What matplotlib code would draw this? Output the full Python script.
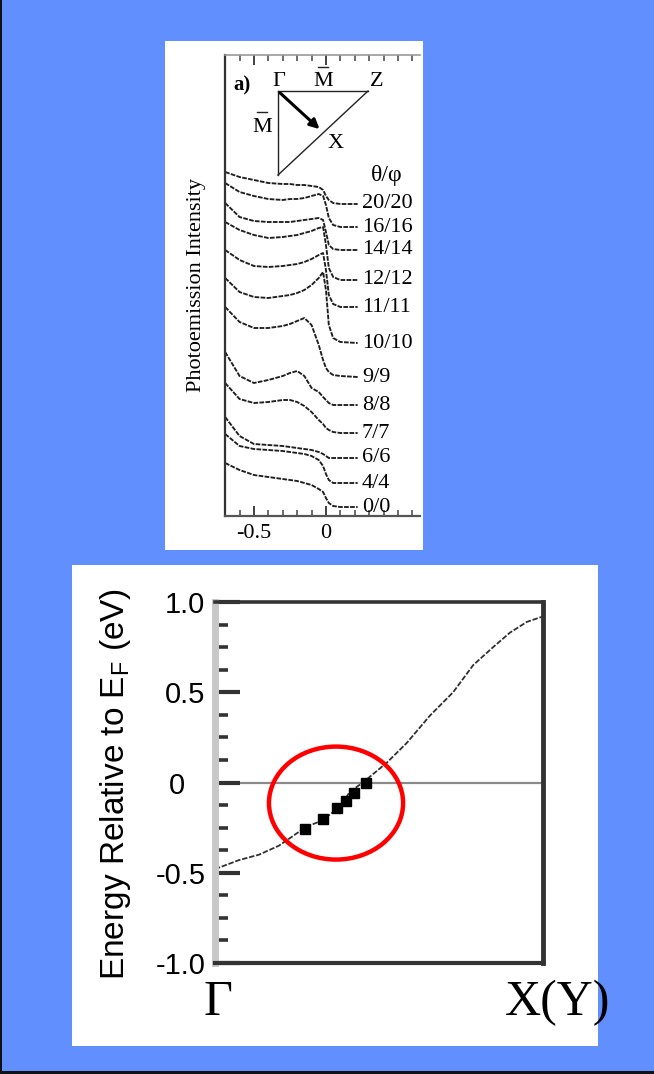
import matplotlib
matplotlib.use("Agg")
import matplotlib.pyplot as plt
from matplotlib.patches import Rectangle, Ellipse
import matplotlib.transforms as mtransforms
from matplotlib.ticker import MultipleLocator

plt.rcParams['axes.unicode_minus'] = False

# ---------------- data : upper panel (EDC spectra) ----------------
energy_grid = [-0.70, -0.60, -0.50, -0.40, -0.30, -0.25, -0.20, -0.15,
               -0.10, -0.05, -0.02, 0.00, 0.02, 0.05, 0.10, 0.22]
spectrum_labels = ["20/20", "16/16", "14/14", "12/12", "11/11", "10/10",
                   "9/9", "8/8", "7/7", "6/6", "4/4", "0/0"]
# intensities (arbitrary units, offset stacked)
spec_20 = [344, 339, 336, 333, 332, 332, 331, 331, 330, 329, 326, 320, 316, 313, 312, 312]
spec_16 = [333, 324, 320, 317, 316, 317, 317, 318, 320, 322, 320, 311, 298, 291, 289, 289]
spec_14 = [313, 299, 295, 294, 294, 294, 295, 296, 297, 298, 296, 284, 271, 267, 266, 266]
spec_12 = [294, 286, 281, 278, 279, 280, 281, 283, 285, 288, 289, 271, 248, 239, 236, 236]
spec_11 = [266, 256, 250, 249, 250, 251, 252, 254, 257, 261, 263, 246, 221, 212, 209, 209]
spec_10 = [238, 224, 219, 218, 220, 221, 223, 226, 231, 238, 244, 226, 191, 178, 174, 173]
spec_9 = [209, 194, 188, 188, 190, 192, 195, 198, 191, 171, 156, 148, 144, 141, 140, 139]
spec_8 = [164, 140, 133, 136, 140, 143, 145, 140, 128, 124, 119, 116, 113, 111, 111, 111]
spec_7 = [133, 117, 113, 114, 116, 116, 114, 110, 104, 96, 92, 88, 86, 84, 83, 83]
spec_6 = [99, 80, 72, 71, 70, 69, 68, 67, 66, 64, 62, 60, 58, 58, 58, 58]
spec_4 = [82, 70, 67, 66, 65, 64, 63, 62, 60, 56, 50, 42, 36, 33, 33, 33]
spec_0 = [53, 46, 41, 39, 37, 36, 35, 33, 31, 27, 24, 18, 13, 10, 9, 9]
spectra = [spec_20, spec_16, spec_14, spec_12, spec_11, spec_10,
           spec_9, spec_8, spec_7, spec_6, spec_4, spec_0]
upper_xticks = [-0.5, 0]
upper_xticklabels = ["-0.5", "0"]

# ---------------- data : lower panel (band dispersion) ----------------
k_band = [0.0, 0.073, 0.134, 0.195, 0.235, 0.274, 0.326, 0.378, 0.412, 0.451,
          0.524, 0.585, 0.655, 0.726, 0.787, 0.848, 0.899, 0.951, 1.0]
e_band = [-0.48, -0.43, -0.40, -0.35, -0.30, -0.25, -0.21, -0.14, -0.05, 0.00,
          0.11, 0.22, 0.37, 0.50, 0.65, 0.75, 0.83, 0.89, 0.92]
k_exp = [0.274, 0.329, 0.372, 0.400, 0.424, 0.46]
e_exp = [-0.26, -0.20, -0.14, -0.10, -0.06, 0.00]
lower_yticks = [1.0, 0.5, 0.0, -0.5, -1.0]
lower_yticklabels = ["1.0", "0.5", "0", "-0.5", "-1.0"]
lower_xticks = [0.0, 1.0]
lower_xticklabels = ["\u0393", "X(Y)"]

# ---------------- figure ----------------
W, H = 654, 1074
fig = plt.figure(figsize=(W / 100, H / 100), dpi=100)
fig.patch.set_facecolor('#628ffe')


def fx(px):
    return px / W


def fy(py):
    return 1 - py / H


def box(x0, y0, x1, y1, **kw):
    fig.add_artist(Rectangle((fx(x0), fy(y1)), fx(x1) - fx(x0), fy(y0) - fy(y1),
                             transform=fig.transFigure, **kw))


box(165, 41, 423, 550, facecolor='white', edgecolor='none', zorder=0)
box(72, 565, 598, 1046, facecolor='white', edgecolor='none', zorder=0)
# dark frame lines at left / bottom edges of the slide
box(0, 0, 2, 1074, facecolor='#111111', edgecolor='none', zorder=0)
box(0, 1071, 654, 1074, facecolor='#111111', edgecolor='none', zorder=0)

serif = ['Liberation Serif', 'DejaVu Serif']
sans = ['Liberation Sans', 'DejaVu Sans']

# ---------------- upper panel ----------------
ax1 = fig.add_axes([fx(225), fy(516), fx(420) - fx(225), fy(55) - fy(516)])
ax1.set_facecolor('none')
ax1.set_xlim(-0.701, 0.653)
ax1.set_ylim(0, 461)
for lab, sp in zip(spectrum_labels, spectra):
    ax1.plot(energy_grid, sp, color='#1e1e1e', lw=1.35, ls=(0, (2.5, 0.7)))
    ax1.text(0.25, sp[-1], lab, family=serif, fontsize=16, ha='left', va='center')
ax1.text(0.42, 341, "\u03b8/\u03c6", family=serif, fontsize=17, ha='center', va='center')

# Brillouin-zone sketch
ax1.plot([-0.333, 0.292], [425, 425], color='#222', lw=1.0)
ax1.plot([-0.333, -0.333], [425, 341], color='#222', lw=1.0)
ax1.plot([-0.333, 0.292], [341, 425], color='#222', lw=1.0)
ax1.annotate("", xy=(-0.03, 385), xytext=(-0.333, 425),
             arrowprops=dict(arrowstyle='-|>', color='black', lw=2.2, mutation_scale=14))
ax1.text(-0.585, 431, "a)", family=serif, fontsize=15, fontweight='bold', ha='center', va='center')
ax1.text(-0.326, 434, "\u0393", family=serif, fontsize=16, ha='center', va='center')
ax1.text(-0.02, 434, "M", family=serif, fontsize=16, ha='center', va='center')
ax1.plot([-0.055, 0.015], [449, 449], color='#222', lw=1.0)
ax1.text(0.355, 434, "Z", family=serif, fontsize=16, ha='center', va='center')
ax1.text(-0.445, 389, "M", family=serif, fontsize=16, ha='center', va='center')
ax1.plot([-0.48, -0.41], [404, 404], color='#222', lw=1.0)
ax1.text(0.065, 372, "X", family=serif, fontsize=16, ha='center', va='center')

ax1.spines['right'].set_visible(False)
ax1.spines['left'].set_color('#333')
ax1.spines['left'].set_linewidth(1.6)
ax1.spines['bottom'].set_color('#555')
ax1.spines['bottom'].set_linewidth(1.6)
ax1.spines['top'].set_color('#999')
ax1.spines['top'].set_linewidth(1.2)
ax1.set_xticks(upper_xticks)
ax1.set_xticklabels(upper_xticklabels, family=serif, fontsize=16)
ax1.xaxis.set_minor_locator(MultipleLocator(0.1))
ax1.tick_params(axis='x', which='major', direction='in', length=7, width=1.3,
                color='#333', pad=6, top=True)
ax1.tick_params(axis='x', which='minor', direction='in', length=4, width=1.1,
                color='#444', top=True)
ax1.set_yticks([])
ax1.set_ylabel("Photoemission Intensity", family=serif, fontsize=16)
ax1.yaxis.set_label_coords(-0.095, 0.5)

# ---------------- lower panel ----------------
ax2 = fig.add_axes([fx(215), fy(963), fx(543) - fx(215), fy(602) - fy(963)])
ax2.set_xlim(0, 1)
ax2.set_ylim(-1, 1)
ax2.axhline(0, color='#8a8a8a', lw=1.6, zorder=1)
ax2.plot(k_band, e_band, color='#303030', lw=1.3, ls=(0, (3, 1)), zorder=2)
ax2.plot(k_exp, e_exp, ls='none', marker='s', ms=7.2, color='black', zorder=3)
circle_center = (0.369, -0.114)
circle_w, circle_h = 0.409, 0.626
ax2.add_patch(Ellipse(circle_center, circle_w, circle_h, fill=False,
                      edgecolor='#ff0000', lw=3.2, zorder=4))

ax2.spines['left'].set_color('#c8c8c8')
ax2.spines['left'].set_linewidth(5)
ax2.spines['top'].set_color('#333')
ax2.spines['top'].set_linewidth(2.6)
ax2.spines['bottom'].set_color('#333')
ax2.spines['bottom'].set_linewidth(3)
ax2.spines['right'].set_color('#333')
ax2.spines['right'].set_linewidth(3.5)

ax2.set_yticks(lower_yticks)
ax2.set_yticklabels(lower_yticklabels, family=sans, fontsize=21)
ax2.yaxis.set_minor_locator(MultipleLocator(0.125))
ax2.tick_params(axis='y', which='major', direction='in', length=18, width=3,
                color='#333', pad=7)
ax2.tick_params(axis='y', which='minor', direction='in', length=9.5, width=2.6,
                color='#333')
for lbl in ax2.get_yticklabels():
    if lbl.get_text() == "0":
        lbl.set_transform(lbl.get_transform() +
                          mtransforms.ScaledTranslation(-20 / 100, 0, fig.dpi_scale_trans))

ax2.set_xticks(lower_xticks)
ax2.set_xticklabels(lower_xticklabels, family=serif, fontsize=36)
ax2.tick_params(axis='x', which='major', length=0, pad=12)
xl = ax2.get_xticklabels()
xl[0].set_transform(xl[0].get_transform() +
                    mtransforms.ScaledTranslation(3 / 100, 0, fig.dpi_scale_trans))
xl[1].set_transform(xl[1].get_transform() +
                    mtransforms.ScaledTranslation(15 / 100, 0, fig.dpi_scale_trans))

ax2.set_ylabel("Energy Relative to E$_\\mathregular{F}$ (eV)", family=sans, fontsize=24)
ax2.yaxis.set_label_coords(-0.25, 0.495)

fig.savefig("out.png", dpi=100, facecolor=fig.get_facecolor())
